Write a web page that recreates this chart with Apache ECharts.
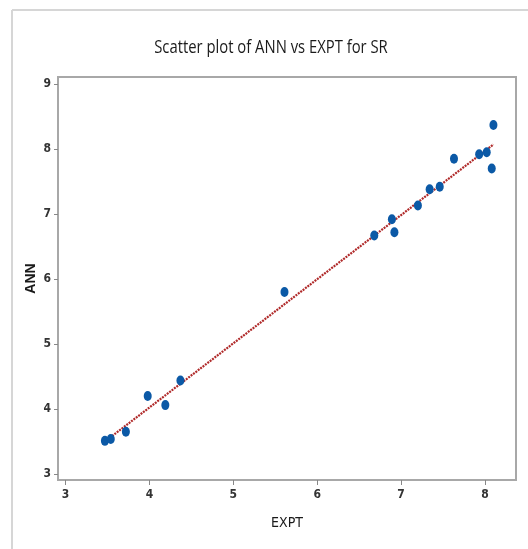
<!DOCTYPE html>
<html>
<head>
<meta charset="utf-8">
<script src="https://cdn.jsdelivr.net/npm/echarts@6/dist/echarts.min.js"></script>
<style>
html,body{margin:0;padding:0;background:#fff;}
#chart{width:528px;height:549px;}
</style>
</head>
<body>
<div id="chart"></div>
<script>
var titleText = 'Scatter plot of ANN vs EXPT for SR';
var xName = 'EXPT';
var yName = 'ANN';
var xTicks = [3, 4, 5, 6, 7, 8];
var yTicks = [3, 4, 5, 6, 7, 8, 9];
var exptValues = [3.47, 3.54, 3.72, 3.98, 4.19, 4.37, 5.61, 6.68, 6.89, 6.92, 7.20, 7.34, 7.46, 7.63, 7.93, 8.02, 8.08, 8.10];
var annValues  = [3.51, 3.54, 3.65, 4.20, 4.06, 4.44, 5.80, 6.67, 6.92, 6.72, 7.13, 7.38, 7.42, 7.85, 7.92, 7.95, 7.70, 8.37];
var fitX = [3.47, 8.10];
var fitY = [3.50, 8.07];

var FONT = "'DejaVu Sans Condensed', 'Liberation Sans Narrow', 'Liberation Sans', sans-serif";
var points = exptValues.map(function (x, i) { return [x, annValues[i]]; });
var fitLine = fitX.map(function (x, i) { return [x, fitY[i]]; });

var chart = echarts.init(document.getElementById('chart'), null, {renderer: 'canvas'});
chart.setOption({
  backgroundColor: '#ffffff',
  animation: false,
  graphic: [
    {type: 'line', shape: {x1: 12, y1: 10, x2: 528, y2: 10}, style: {stroke: '#d6d6d6', lineWidth: 2}, z: 0},
    {type: 'line', shape: {x1: 12, y1: 10, x2: 12, y2: 549}, style: {stroke: '#d6d6d6', lineWidth: 2}, z: 0},
    {type: 'text', x: 271, y: 48, scaleX: 0.78, style: {text: titleText, fontFamily: "'Open Sans', 'Liberation Sans', sans-serif", fontSize: 19, fill: '#1a1a1a', textAlign: 'center', textVerticalAlign: 'middle'}}
  ],
  grid: {left: 58, right: 12, top: 77, bottom: 69, show: true, borderColor: '#a8a8a8', borderWidth: 2, backgroundColor: '#fff'},
  xAxis: {
    type: 'value', min: 2.911, max: 8.369,
    name: xName, nameLocation: 'middle', nameGap: 36,
    nameTextStyle: {fontFamily: FONT, fontSize: 14, color: '#1a1a1a'},
    splitLine: {show: false},
    axisLine: {show: true, onZero: false, lineStyle: {color: '#a8a8a8', width: 2}},
    axisTick: {show: true, length: 5, customValues: xTicks, lineStyle: {color: '#888', width: 1}},
    axisLabel: {customValues: xTicks, margin: 9, fontFamily: FONT, fontSize: 12, fontWeight: 'bold', color: '#333'}
  },
  yAxis: {
    type: 'value', min: 2.908, max: 9.108,
    name: yName, nameLocation: 'middle', nameGap: 20, nameRotate: 90, nameMoveOverlap: false,
    nameTextStyle: {fontFamily: "'Liberation Sans', Arial, sans-serif", fontSize: 14, fontWeight: 'bold', color: '#1a1a1a'},
    splitLine: {show: false},
    axisLine: {show: true, onZero: false, lineStyle: {color: '#a8a8a8', width: 2}},
    axisTick: {show: true, length: 4, customValues: yTicks, lineStyle: {color: '#888', width: 1}},
    axisLabel: {customValues: yTicks, margin: 7, fontFamily: FONT, fontSize: 12, fontWeight: 'bold', color: '#333'}
  },
  series: [
    {
      type: 'line', data: fitLine, symbol: 'none', z: 2,
      lineStyle: {color: '#b02a2a', width: 2.2, type: [2, 1]}
    },
    {
      type: 'scatter', data: points, z: 3,
      symbol: 'circle', symbolSize: [8, 10],
      itemStyle: {color: '#0b59a6', opacity: 1}
    }
  ]
});
</script>
</body>
</html>
